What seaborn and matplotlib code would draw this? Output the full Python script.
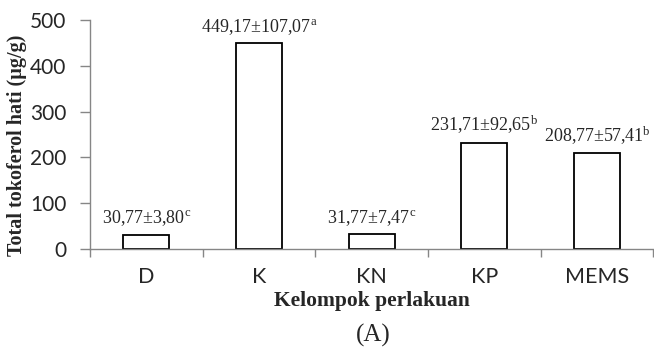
import matplotlib
matplotlib.use("Agg")
import matplotlib.pyplot as plt
import seaborn as sns
import pandas as pd

# Mean liver tocopherol per treatment group, with SD and significance letters
groups = ["D", "K", "KN", "KP", "MEMS"]
means = [30.77, 449.17, 31.77, 231.71, 208.77]
sds = [3.80, 107.07, 7.47, 92.65, 57.41]
letters = ["c", "a", "c", "b", "b"]
y_ticks = [0, 100, 200, 300, 400, 500]

df = pd.DataFrame({"group": groups, "mean": means})

sns.set_theme(style="white")
plt.rcParams["mathtext.fontset"] = "custom"
plt.rcParams["mathtext.rm"] = "Liberation Serif"
plt.rcParams["mathtext.it"] = "Liberation Serif:italic"

W, H = 654, 349
fig = plt.figure(figsize=(W / 100, H / 100), dpi=100)
ax_w = 1 - 90 / W - 0.001
ax = fig.add_axes([90 / W, 1 - 249 / H, ax_w, (249 - 20) / H])

sns.barplot(data=df, x="group", y="mean", ax=ax, color="white",
            edgecolor="black", linewidth=1.3, width=0.41, saturation=1)

ax.set_ylim(0, 500)
ax.set_xlim(-0.5, len(groups) - 0.5)
ax.set_yticks(y_ticks)
ax.set_yticklabels([str(t) for t in y_ticks], fontfamily="Lato", fontsize=15)

# category labels centred, tick marks on category boundaries
ax.set_xticks(range(len(groups)))
ax.set_xticklabels(groups, fontfamily="Lato", fontsize=15.5)
ax.tick_params(axis="x", length=0, pad=13)
ax.set_xticks([i - 0.5 for i in range(len(groups) + 1)], minor=True)
ax.tick_params(axis="x", which="minor", length=6, width=1, color="#868686",
               direction="out", bottom=True)
ax.tick_params(axis="y", length=7, width=1, color="#868686", direction="out",
               left=True, pad=10)

for side in ["top", "right"]:
    ax.spines[side].set_visible(False)
for side in ["left", "bottom"]:
    ax.spines[side].set_color("#868686")
    ax.spines[side].set_linewidth(1)

for i, (m, s, l) in enumerate(zip(means, sds, letters)):
    txt = f"{m:.2f}±{s:.2f}".replace(".", ",") + r"$^{\mathrm{" + l + "}}$"
    ax.text(i, m + 14, txt, ha="center", va="bottom",
            fontfamily="Liberation Serif", fontsize=13)

ax.set_xlabel("Kelompok perlakuan", fontfamily="Liberation Serif",
              fontweight="bold", fontsize=15.5, labelpad=3)
ax.set_ylabel("Total tokoferol hati (µg/g)", fontfamily="Liberation Serif",
              fontweight="bold", fontsize=14.5)
ax.yaxis.set_label_coords((27 - 90) / (ax_w * W), (249 - 145) / 229)

fig.text(373 / W, 1 - 347 / H, "(A)", ha="center", va="bottom",
         fontfamily="Liberation Serif", fontsize=18)

fig.savefig("out.png", dpi=100)
